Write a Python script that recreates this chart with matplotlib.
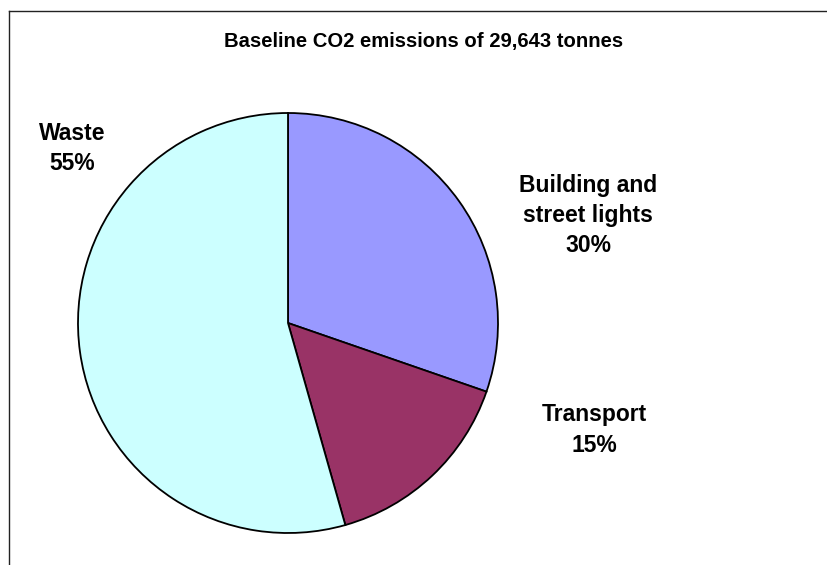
import matplotlib
matplotlib.use("Agg")
import matplotlib.pyplot as plt
from matplotlib.lines import Line2D

categories = ["Building and\nstreet lights", "Transport", "Waste"]
shares = [30.3, 15.3, 54.4]
pct_labels = ["30%", "15%", "55%"]
colors = ["#9999FF", "#993366", "#CCFFFF"]
title = "Baseline CO2 emissions of 29,643 tonnes"

W, H = 828, 565
fig = plt.figure(figsize=(W / 100, H / 100), dpi=100)
plt.rcParams['font.family'] = ['Liberation Sans', 'DejaVu Sans']

def fx(x):
    return x / W

def fy(y):
    return 1 - y / H

# pie axes: center (288, 323) radius 210 px
cx, cy, r = 288, 323, 210
ax = fig.add_axes([fx(cx - r), fy(cy + r), 2 * r / W, 2 * r / H])
ax.pie(shares, colors=colors, startangle=90, counterclock=False,
       wedgeprops=dict(edgecolor="black", linewidth=1.3))
ax.set_xlim(-1, 1)
ax.set_ylim(-1, 1)
ax.set_aspect("equal")
ax.axis("off")

# chart border (left and top visible)
fig.add_artist(Line2D([fx(8.5), fx(8.5)], [fy(11), fy(H + 5)], color="#222222", lw=1.0,
                      transform=fig.transFigure))
fig.add_artist(Line2D([fx(8.5), fx(W + 5)], [fy(11), fy(11)], color="#222222", lw=1.0,
                      transform=fig.transFigure))

fig.text(fx(424), fy(47), title, ha="center", va="baseline",
         fontsize=14.6, fontweight="bold")

label_pos = [(588, 192), (594, 421.5), (72, 140.5)]
line_step = 30
for cat, pct, (x, y) in zip(categories, pct_labels, label_pos):
    lines = cat.split("\n") + [pct]
    for i, line in enumerate(lines):
        fig.text(fx(x), fy(y + i * line_step), line, ha="center", va="baseline",
                 fontsize=16.5, fontweight="bold")

fig.savefig("out.png", dpi=100)
